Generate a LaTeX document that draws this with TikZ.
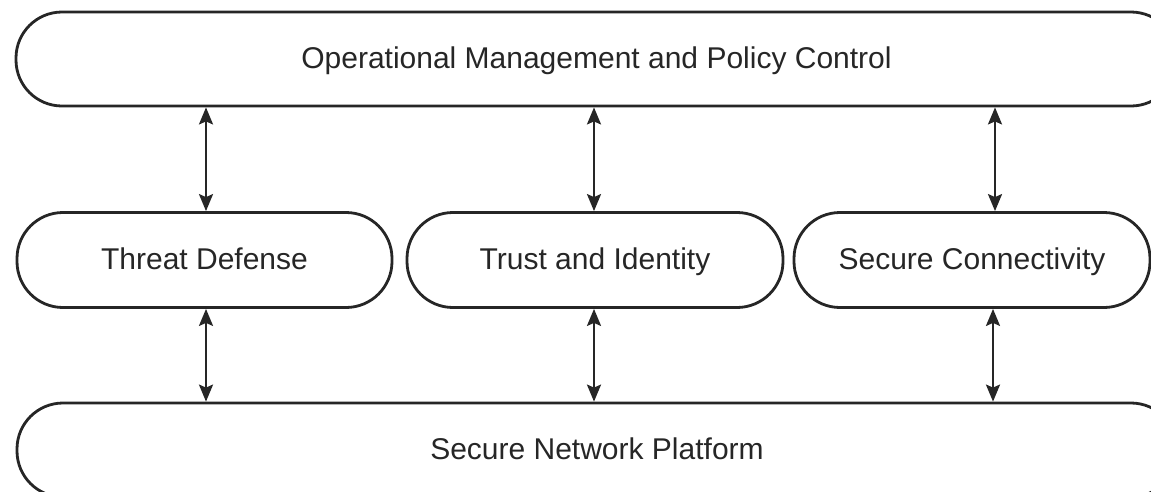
\documentclass[tikz,border=0pt]{standalone}
\usepackage{fontspec}
\setmainfont{Liberation Sans}
\usetikzlibrary{arrows.meta}
\tikzset{
  pill/.style={draw=black!85, line width=2.8pt, rounded corners=46pt, minimum height=#1, inner sep=0pt, text height=21pt, text depth=2pt, font=\fontsize{30}{36}\selectfont, text=black!85},
  pill/.default=94pt,
  biarrow/.style={line width=2.4pt, draw=black!85, {Stealth[length=17pt,width=14pt,inset=3pt]}-{Stealth[length=17pt,width=14pt,inset=3pt]}}
}
\begin{document}
\begin{tikzpicture}[x=1pt,y=-1pt]
\useasboundingbox (0,0) rectangle (1151,491);
\clip (0,0) rectangle (1151,491);
\node[pill, minimum width=1161pt] (top) at (596.5,59) {Operational Management and Policy Control};
\node[pill=95pt, minimum width=375pt] (td) at (204.5,260) {Threat Defense};
\node[pill=95pt, minimum width=376pt] (ti) at (595,260) {Trust and Identity};
\node[pill=95pt, minimum width=356pt] (sc) at (972,260) {Secure Connectivity};
\node[pill, minimum width=1160pt] (bot) at (597,450) {Secure Network Platform};
\draw[biarrow] ([xshift=1.5pt]td.north) -- ([xshift=1.5pt]td.north |- top.south);
\draw[biarrow] ([xshift=-1pt]ti.north) -- ([xshift=-1pt]ti.north |- top.south);
\draw[biarrow] ([xshift=23pt]sc.north) -- ([xshift=23pt]sc.north |- top.south);
\draw[biarrow] ([xshift=1.5pt]td.south) -- ([xshift=1.5pt]td.south |- bot.north);
\draw[biarrow] ([xshift=-1pt]ti.south) -- ([xshift=-1pt]ti.south |- bot.north);
\draw[biarrow] ([xshift=21pt]sc.south) -- ([xshift=21pt]sc.south |- bot.north);
\end{tikzpicture}
\end{document}
